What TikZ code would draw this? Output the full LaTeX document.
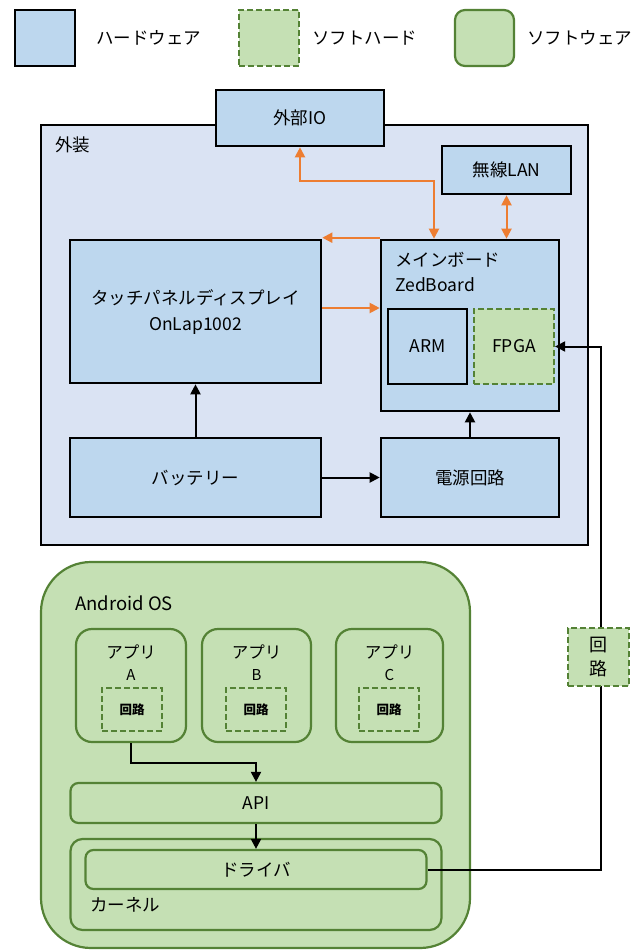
\documentclass[tikz,border=0pt]{standalone}
\usepackage{fontspec}
\setmainfont{Noto Sans CJK JP}
\usetikzlibrary{arrows.meta}
\definecolor{hwfill}{HTML}{BDD7EE}
\definecolor{casefill}{HTML}{DAE3F3}
\definecolor{gfill}{HTML}{C5E0B4}
\definecolor{gline}{HTML}{548235}
\definecolor{org}{HTML}{ED7D31}
\tikzset{
  hw/.style={draw=black, line width=2.6pt, fill=hwfill, inner sep=0pt},
  shw/.style={draw=gline, line width=2.2pt, dash pattern=on 6pt off 3pt, fill=gfill, inner sep=0pt},
  sw/.style={draw=gline, line width=2.2pt, fill=gfill, rounded corners=12pt, inner sep=0pt},
  jp/.style={font=\fontsize{17.5}{20}\selectfont},
  lat/.style={font=\fontsize{17.5}{20}\selectfont},
  small/.style={font=\fontsize{12.5}{14}\selectfont\bfseries},
  tipb/.style={-{Triangle[length=10pt,width=10pt]}},
  barr/.style={draw=black, line width=2pt, tipb},
  oboth/.style={draw=org, line width=2pt, {Triangle[length=10pt,width=10pt]}-{Triangle[length=10pt,width=10pt]}},
  oone/.style={draw=org, line width=2pt, -{Triangle[length=10pt,width=10pt]}},
}
\begin{document}
\begin{tikzpicture}[x=1pt,y=-1pt]
\useasboundingbox[fill=white] (0,0) rectangle (640,950);

% legend
\node[hw, minimum width=60, minimum height=56] (hwl) at (45,38) {};
\node[shw, minimum width=60, minimum height=56] (shl) at (269,38) {};
\node[sw, rounded corners=10pt, minimum width=59, minimum height=56] (swl) at (484.5,38) {};
\node[jp, anchor=west, inner sep=0pt] (lab1) at (96,38) {ハードウェア};
\node[jp, anchor=west, inner sep=0pt] (lab2) at (312,38) {ソフトハード};
\node[jp, anchor=west, inner sep=0pt] (lab3) at (527,38) {ソフトウェア};

% case
\node[draw=black, line width=2pt, fill=casefill, minimum width=547, minimum height=420, inner sep=0pt] (case) at (314.5,335) {};
\node[jp, anchor=west, inner sep=0pt] (caselab) at (55,145) {外装};

\node[hw, jp, minimum width=168, minimum height=56] (io) at (300,118) {外部IO};
\node[hw, jp, minimum width=129, minimum height=48] (lan) at (506.5,170) {無線LAN};
\node[hw, minimum width=251, minimum height=143] (tp) at (195.5,311.5) {};
\node[jp, inner sep=0pt] (tpt1) at (195.5,298) {タッチパネルディスプレイ};
\node[lat, inner sep=0pt] (tpt2) at (195.5,326) {OnLap1002};
\node[hw, minimum width=178, minimum height=171] (main) at (470,325.5) {};
\node[jp, anchor=west, inner sep=0pt] (maint1) at (395,260) {メインボード};
\node[lat, anchor=west, inner sep=0pt] (maint2) at (395,285) {ZedBoard};
\node[hw, lat, minimum width=79, minimum height=75] (arm) at (427.5,346.5) {ARM};
\node[shw, lat, minimum width=80, minimum height=75] (fpga) at (514,346.5) {FPGA};
\node[hw, jp, minimum width=251, minimum height=79] (bat) at (195.5,477.5) {バッテリー};
\node[hw, jp, minimum width=178, minimum height=79] (pwr) at (470,477.5) {電源回路};

% orange connectors
\coordinate (m1) at (434,181);
\draw[oboth] (io.south) |- (m1) -- (m1 |- main.north);
\draw[oboth] (lan.south) -- (lan.south |- main.north);
\draw[oone] ([yshift=1pt]main.north west) -- ([yshift=1pt]main.north west -| tp.east);
\draw[oone] ([yshift=3.5pt]tp.east) -- ([yshift=3.5pt]tp.east -| main.west);

% black connectors
\draw[barr] (bat.north) -- (tp.south);
\draw[barr] (bat.east) -- (pwr.west);
\draw[barr] (pwr.north) -- (main.south);

% Android
\node[sw, rounded corners=50pt, minimum width=429, minimum height=386] (android) at (255.5,755) {};
\node[lat, font=\fontsize{18.5}{21}\selectfont, anchor=west, inner sep=0pt] (andlab) at (75,603) {Android OS};
\node[sw, rounded corners=16pt, minimum width=110, minimum height=113] (appA) at (131,685.5) {};
\node[sw, rounded corners=16pt, minimum width=109, minimum height=113] (appB) at (256.5,685.5) {};
\node[sw, rounded corners=16pt, minimum width=107, minimum height=113] (appC) at (389.5,685.5) {};
\node[jp, font=\fontsize{16.5}{18}\selectfont, inner sep=0pt] (apA1) at (131,652) {アプリ};
\node[lat, font=\fontsize{15}{16}\selectfont, inner sep=0pt] (apA2) at (131,675) {A};
\node[jp, font=\fontsize{16.5}{18}\selectfont, inner sep=0pt] (apB1) at (256.5,652) {アプリ};
\node[lat, font=\fontsize{15}{16}\selectfont, inner sep=0pt] (apB2) at (256.5,675) {B};
\node[jp, font=\fontsize{16.5}{18}\selectfont, inner sep=0pt] (apC1) at (389.5,652) {アプリ};
\node[lat, font=\fontsize{15}{16}\selectfont, inner sep=0pt] (apC2) at (389.5,675) {C};
\node[shw, small, minimum width=60, minimum height=43] (kA) at (132,709.5) {回路};
\node[shw, small, minimum width=60, minimum height=43] (kB) at (256,709.5) {回路};
\node[shw, small, minimum width=60, minimum height=43] (kC) at (389,709.5) {回路};

\node[sw, rounded corners=8pt, lat, minimum width=371, minimum height=40] (api) at (256,803) {API};
\node[sw, rounded corners=12pt, minimum width=371, minimum height=91] (kern) at (256,884.5) {};
\node[sw, rounded corners=8pt, jp, minimum width=341, minimum height=39] (drv) at (256,869.5) {ドライバ};
\node[jp, anchor=west, inner sep=0pt] (kernlab) at (90,905) {カーネル};

\draw[barr] (appA.south) -- (appA.south |- 0,763) -| (api.north);
\draw[barr] (api.south) -- (drv.north);

% driver to FPGA
\coordinate (r1) at (601,0);
\draw[barr] (drv.east) -| (r1 |- fpga.east) -- (fpga.east);
\node[shw, minimum width=61, minimum height=58, align=center, font=\fontsize{18}{24}\selectfont] (kside) at (598.5,657) {回\\路};
\end{tikzpicture}
\end{document}
